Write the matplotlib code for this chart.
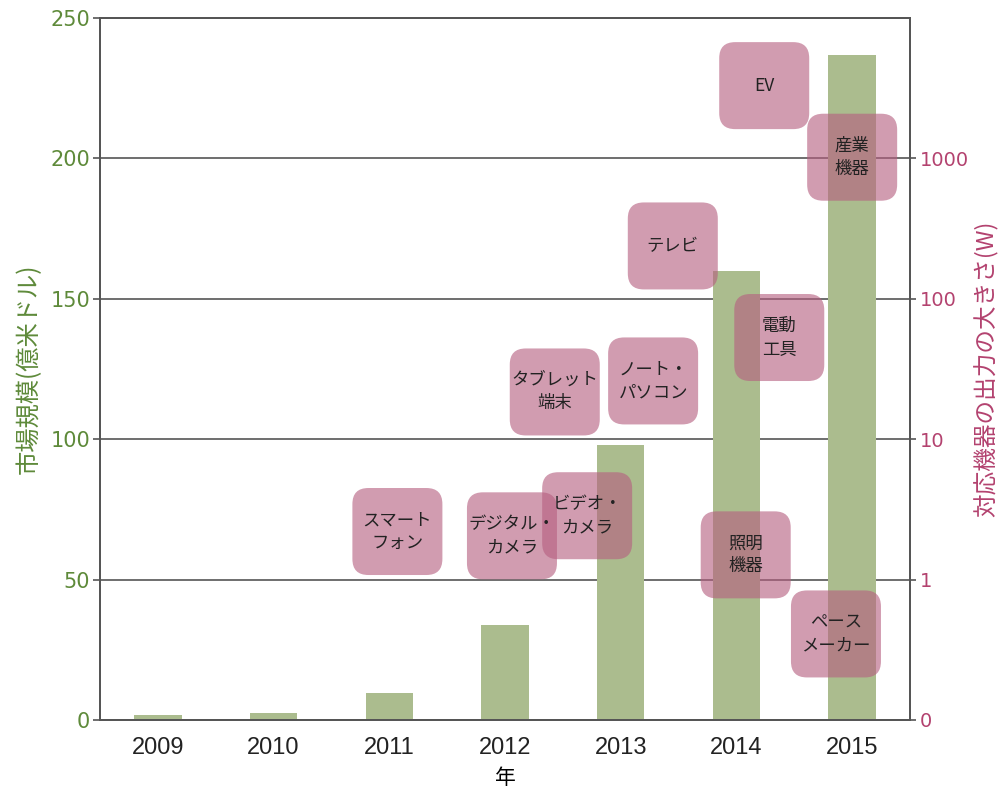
import numpy as np
import matplotlib
matplotlib.use("Agg")
import matplotlib.pyplot as plt
from matplotlib.patches import FancyBboxPatch
from matplotlib.transforms import ScaledTranslation

# market size per year (100 million USD)
years = [2009, 2010, 2011, 2012, 2013, 2014, 2015]
market = [1.8, 2.5, 9.5, 34, 98, 160, 237]

# devices and output power (W), placed at fractional years
device_names = ["スマート\nフォン", "デジタル・\nカメラ", "ビデオ・\nカメラ",
                "タブレット\n端末", "ノート・\nパソコン", "テレビ", "EV",
                "産業\n機器", "電動\n工具", "照明\n機器", "ペース\nメーカー"]
device_years = [2011.07, 2012.06, 2012.71, 2012.43, 2013.28, 2013.45,
                2014.24, 2015.00, 2014.37, 2014.08, 2014.86]
device_watts = [2.2, 2.05, 2.85, 21.7, 26, 238, 3300, 1020, 53, 1.5, 0.41]

# right axis tick values (W); the bottom tick is labelled "0"
watt_ticks = [0.1, 1, 10, 100, 1000]
watt_labels = ["0", "1", "10", "100", "1000"]

green = "#5E8A3A"
pink = "#B3426F"
bar_green = "#ABBC8E"
box_pink = "#B65F80"
grey = "#555555"
cjk = ["Noto Sans CJK JP", "DejaVu Sans"]


def fwd(w):
    w = np.asarray(w, dtype=float)
    return 50 * (np.log10(np.maximum(w, 1e-12)) + 1)


def inv(v):
    v = np.asarray(v, dtype=float)
    return 10 ** (v / 50 - 1)


fig = plt.figure(figsize=(10.03, 7.91), dpi=100)
ax = fig.add_axes([0.0997, 0.0898, 0.8076, 0.8874])

ax.bar(years, market, width=0.41, color=bar_green, zorder=2)
ax.set_xlim(2008.5, 2015.5)
ax.set_ylim(0, 250)
ax.set_yticks([0, 50, 100, 150, 200, 250])
ax.set_xticks(years)
ax.set_xticklabels([str(y) for y in years], family="Liberation Sans",
                   fontsize=17)
ax.yaxis.grid(True, color=grey, lw=1.2)
ax.set_axisbelow(True)
ax.tick_params(axis="y", labelcolor=green, color=grey, length=5, width=1.2,
               labelsize=15, pad=2)
ax.tick_params(axis="x", length=0, pad=12, labelcolor="#222222")
ax.set_xlabel("年", family=cjk, fontsize=15, labelpad=6)
ax.set_ylabel("市場規模(億米ドル)", family=cjk, fontsize=17.5, color=green,
              labelpad=6)
for s in ax.spines.values():
    s.set_color(grey)
    s.set_linewidth(1.3)

ax2 = ax.twinx()
ax2.set_yscale("function", functions=(fwd, inv))
ax2.set_ylim(0.1, 1e4)
ax2.set_yticks(watt_ticks)
ax2.set_yticklabels(watt_labels)
ax2.yaxis.set_minor_locator(matplotlib.ticker.NullLocator())
ax2.tick_params(axis="y", labelcolor=pink, color=grey, length=4, width=1.2,
                labelsize=14, pad=3)
ax2.set_ylabel("対応機器の出力の大きさ(W)", family=cjk, fontsize=17,
               color=pink, labelpad=4)
for s in ax2.spines.values():
    s.set_color(grey)
    s.set_linewidth(1.3)

# rounded label boxes, fixed size in inches, centred on (year, watts)
for name, yr, w in zip(device_names, device_years, device_watts):
    trans = fig.dpi_scale_trans + ScaledTranslation(yr, w, ax2.transData)
    box = FancyBboxPatch((-0.45, -0.435), 0.9, 0.87,
                         boxstyle="round,pad=0,rounding_size=0.16",
                         transform=trans, facecolor=box_pink, alpha=0.62,
                         edgecolor="none", clip_on=False, zorder=3)
    ax2.add_patch(box)
    ax2.text(yr, w, name, ha="center", va="center", fontsize=12.5,
             linespacing=1.35, family=cjk, color="#222222", zorder=4)

fig.savefig("out.png", dpi=100)
